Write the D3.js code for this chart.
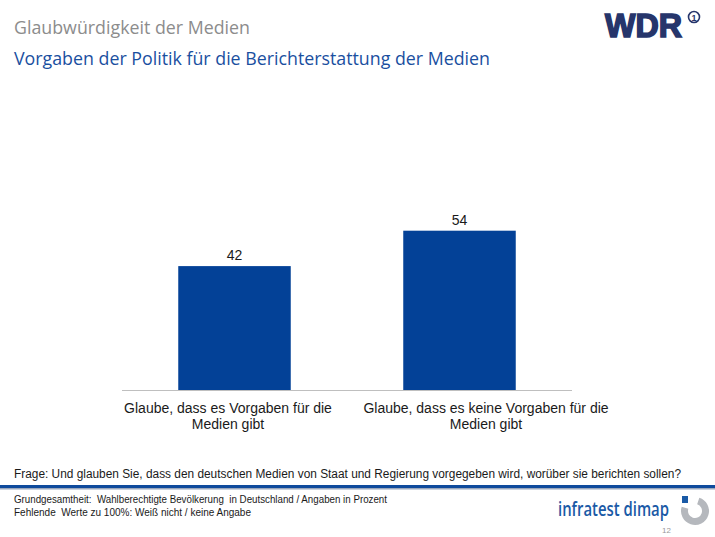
<!DOCTYPE html>
<html>
<head>
<meta charset="utf-8">
<script src="https://cdn.jsdelivr.net/npm/d3@7"></script>
<style>
  body { margin: 0; background: #fff; }
  svg { display: block; }
  text { white-space: pre; }
</style>
</head>
<body>
<svg width="715" height="537"></svg>
<script>
const categories = [
  ["Glaube, dass es Vorgaben für die", "Medien gibt"],
  ["Glaube, dass es keine Vorgaben für die", "Medien gibt"]
];
const values = [42, 54];

const svg = d3.select("svg");
const font = "'Liberation Sans', Arial, sans-serif";
const titleFont = "'Open Sans', 'DejaVu Sans', sans-serif";

// header
svg.append("text")
  .attr("x", 14).attr("y", 34)
  .attr("font-family", titleFont).attr("font-size", 19)
  .attr("fill", "#8c8c8c")
  .attr("textLength", 236).attr("lengthAdjust", "spacingAndGlyphs")
  .text("Glaubwürdigkeit der Medien");

svg.append("text")
  .attr("x", 14).attr("y", 65)
  .attr("font-family", titleFont).attr("font-size", 19)
  .attr("fill", "#1a4f9f")
  .attr("textLength", 476).attr("lengthAdjust", "spacingAndGlyphs")
  .text("Vorgaben der Politik für die Berichterstattung der Medien");

// WDR logo
svg.append("text")
  .attr("x", 605).attr("y", 37)
  .attr("font-family", font).attr("font-size", 33).attr("font-weight", 700)
  .attr("fill", "#26356b").attr("stroke", "#26356b").attr("stroke-width", 1.6)
  .attr("textLength", 77).attr("lengthAdjust", "spacingAndGlyphs")
  .text("WDR");
svg.append("circle").attr("cx", 694).attr("cy", 17).attr("r", 5.5)
  .attr("fill", "none").attr("stroke", "#26356b").attr("stroke-width", 1.6);
svg.append("text").attr("x", 694).attr("y", 20.5)
  .attr("text-anchor", "middle")
  .attr("font-family", font).attr("font-size", 9).attr("font-weight", 700)
  .attr("fill", "#26356b").text("1");

// chart
const x = d3.scaleBand()
  .domain(d3.range(categories.length))
  .range([122, 572])
  .paddingInner(0.5)
  .paddingOuter(0.25);

// category labels sit on their own slots, slightly offset from the bars
const xl = d3.scaleBand()
  .domain(d3.range(categories.length))
  .range([99, 615]);

const y = d3.scaleLinear().domain([0, 60]).range([390, 213]);

svg.selectAll("rect.bar")
  .data(values)
  .enter()
  .append("rect")
  .attr("class", "bar")
  .attr("x", (d, i) => x(i))
  .attr("width", x.bandwidth())
  .attr("y", d => y(d))
  .attr("height", d => y(0) - y(d))
  .attr("fill", "#034197");

svg.append("line")
  .attr("x1", 122).attr("x2", 572)
  .attr("y1", y(0) + 0.5).attr("y2", y(0) + 0.5)
  .attr("stroke", "#bfbfbf").attr("stroke-width", 1);

svg.selectAll("text.val")
  .data(values)
  .enter()
  .append("text")
  .attr("class", "val")
  .attr("x", (d, i) => x(i) + x.bandwidth() / 2)
  .attr("y", d => y(d) - 6)
  .attr("text-anchor", "middle")
  .attr("font-family", font).attr("font-size", 14)
  .attr("fill", "#1a1a1a")
  .text(d => d);

const catG = svg.selectAll("text.cat")
  .data(categories)
  .enter()
  .append("text")
  .attr("class", "cat")
  .attr("text-anchor", "middle")
  .attr("font-family", font).attr("font-size", 14)
  .attr("fill", "#1a1a1a");
catG.selectAll("tspan")
  .data((d, i) => d.map(t => ({t, i})))
  .enter()
  .append("tspan")
  .attr("x", d => xl(d.i) + xl.bandwidth() / 2)
  .attr("y", (d, j) => 413 + j * 16)
  .text(d => d.t);

// question
svg.append("text")
  .attr("x", 14).attr("y", 478)
  .attr("font-family", font).attr("font-size", 12)
  .attr("fill", "#1a1a1a")
  .attr("textLength", 667).attr("lengthAdjust", "spacingAndGlyphs")
  .text("Frage: Und glauben Sie, dass den deutschen Medien von Staat und Regierung vorgegeben wird, worüber sie berichten sollen?");

// footer rules
svg.append("rect").attr("x", 0).attr("y", 485).attr("width", 715).attr("height", 3).attr("fill", "#0f4a9c");
svg.append("rect").attr("x", 0).attr("y", 488).attr("width", 715).attr("height", 1.5).attr("fill", "#9aa7bd");

svg.append("text")
  .attr("x", 14).attr("y", 503)
  .attr("font-family", font).attr("font-size", 10)
  .attr("fill", "#1a1a1a")
  .attr("textLength", 373).attr("lengthAdjust", "spacingAndGlyphs")
  .text("Grundgesamtheit:  Wahlberechtigte Bevölkerung  in Deutschland / Angaben in Prozent");
svg.append("text")
  .attr("x", 14).attr("y", 516)
  .attr("font-family", font).attr("font-size", 10)
  .attr("fill", "#1a1a1a")
  .text("Fehlende  Werte zu 100%: Weiß nicht / keine Angabe");

// infratest dimap logo
svg.append("text")
  .attr("x", 558).attr("y", 516)
  .attr("font-family", "'Open Sans', sans-serif").attr("font-size", 19).attr("font-weight", 600)
  .attr("fill", "#1a5aa6")
  .attr("textLength", 111).attr("lengthAdjust", "spacingAndGlyphs")
  .text("infratest dimap");
const arc = d3.arc().innerRadius(7).outerRadius(14);
svg.append("path")
  .attr("transform", "translate(695,511)")
  .attr("d", arc({startAngle: 0.1 * Math.PI, endAngle: 1.6 * Math.PI}))
  .attr("fill", "#b5b8bd");
svg.append("rect").attr("x", 682).attr("y", 496).attr("width", 6).attr("height", 7).attr("fill", "#1a5aa6");

svg.append("text")
  .attr("x", 671).attr("y", 533)
  .attr("text-anchor", "end")
  .attr("font-family", font).attr("font-size", 8)
  .attr("fill", "#999")
  .text("12");
</script>
</body>
</html>
